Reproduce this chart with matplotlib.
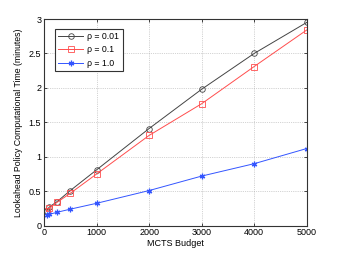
import matplotlib
matplotlib.use("Agg")
import matplotlib.pyplot as plt

plt.rcParams['font.family'] = ['Liberation Sans', 'DejaVu Sans']

budget = [50, 100, 250, 500, 1000, 2000, 3000, 4000, 5000]
rho_001 = [0.22, 0.27, 0.35, 0.51, 0.81, 1.41, 1.98, 2.50, 2.95]
rho_01 = [0.21, 0.25, 0.34, 0.47, 0.75, 1.31, 1.77, 2.31, 2.84]
rho_10 = [0.155, 0.165, 0.195, 0.24, 0.325, 0.51, 0.72, 0.90, 1.12]

fig = plt.figure(figsize=(3.38, 2.54), dpi=100)
ax = fig.add_axes([44/338, 1 - 225.7/254, (306.7-44)/338, (225.7-19)/254])

ax.plot(budget, rho_001, color='#444444', linewidth=0.7, marker='o', markersize=4,
        markerfacecolor='none', markeredgewidth=0.6, label='ρ = 0.01')
ax.plot(budget, rho_01, color='#ff4d4d', linewidth=0.7, marker='s', markersize=4,
        markerfacecolor='none', markeredgewidth=0.6, label='ρ = 0.1')
ax.plot(budget, rho_10, color='#3355ff', linewidth=0.7, marker=(6, 2, 0), markersize=4,
        markeredgewidth=0.9, label='ρ = 1.0')

ax.set_xlim(0, 5000)
ax.set_ylim(0, 3)
ax.set_xticks([0, 1000, 2000, 3000, 4000, 5000])
ax.set_yticks([0, 0.5, 1, 1.5, 2, 2.5, 3])
ax.set_yticklabels(['0', '0.5', '1', '1.5', '2', '2.5', '3'])
ax.tick_params(labelsize=6.5, direction='in', length=2, width=0.5, pad=2,
               top=True, right=True)
ax.grid(True, linestyle=':', linewidth=0.5, color='#aaaaaa')
for s in ax.spines.values():
    s.set_linewidth(0.8)
    s.set_color('#333333')

ax.set_xlabel('MCTS Budget', fontsize=6.5, labelpad=1)
ax.set_ylabel('Lookahead Policy Computational Time (minutes)', fontsize=6.3, labelpad=4)

leg = ax.legend(loc='upper left', fontsize=6.3, fancybox=False, framealpha=1,
                edgecolor='#333333', handlelength=2.8, handletextpad=0.5,
                borderpad=0.4, labelspacing=0.5, bbox_to_anchor=(0.025, 0.975))
leg.get_frame().set_linewidth(0.8)

fig.savefig('out.png', dpi=100)
